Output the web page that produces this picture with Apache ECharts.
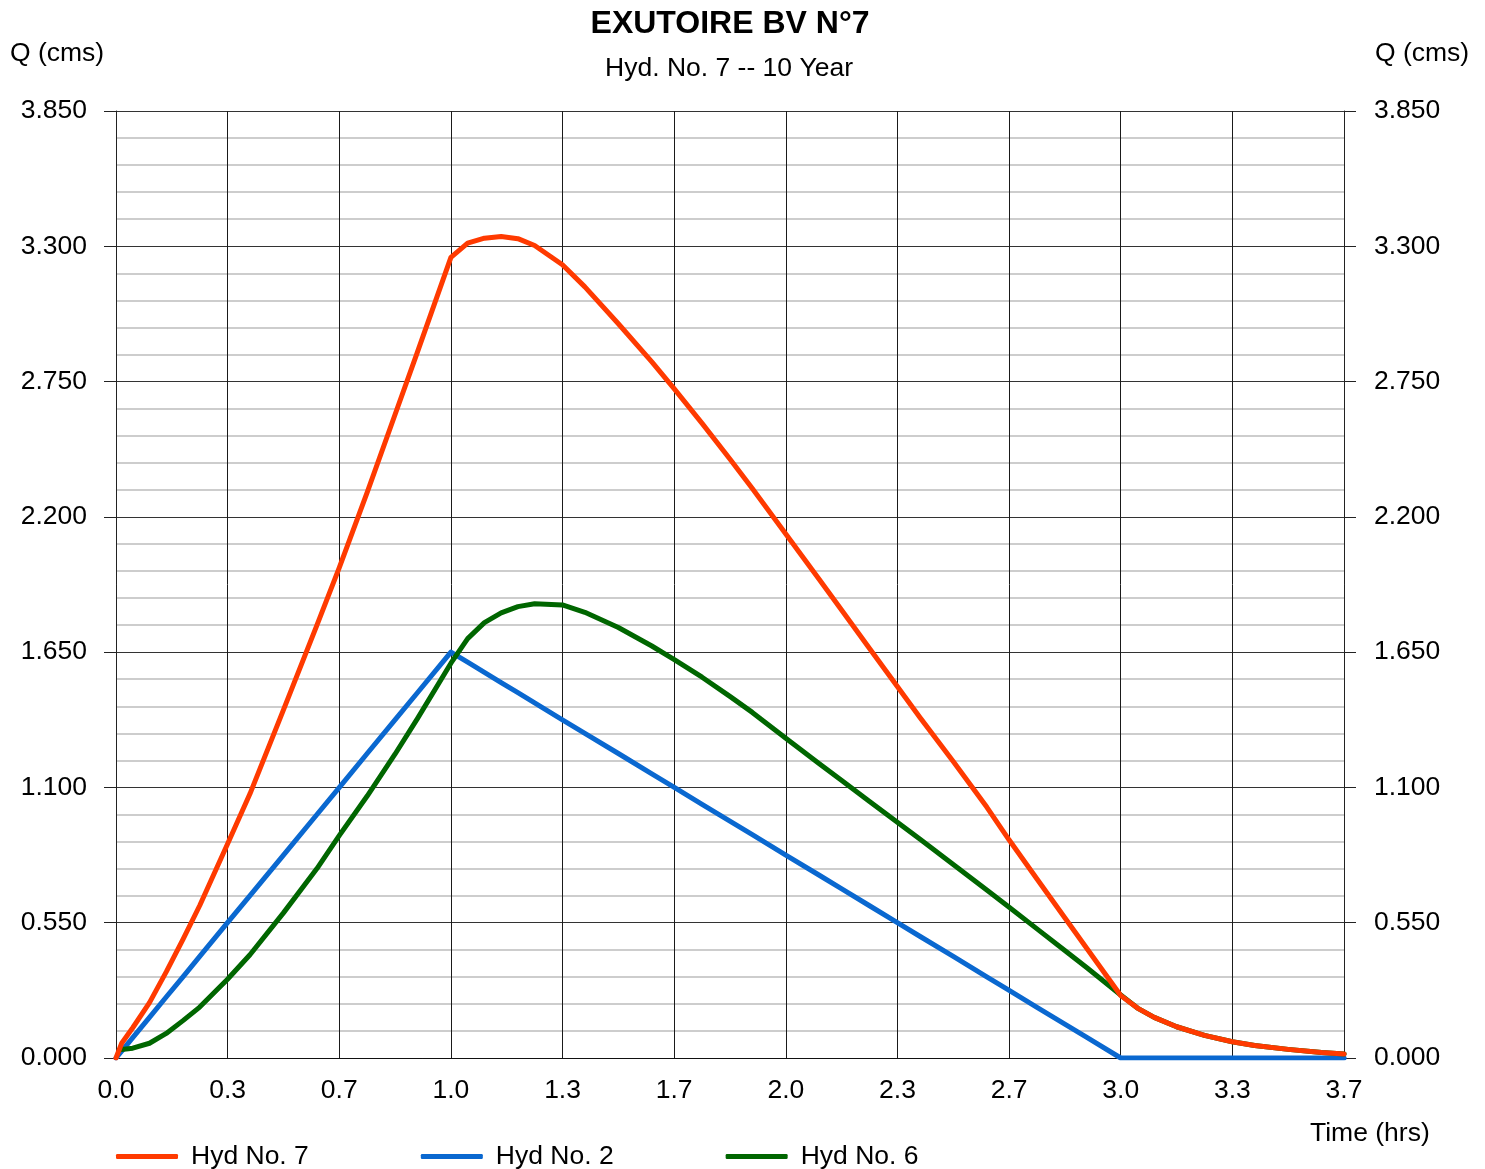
<!DOCTYPE html>
<html><head><meta charset="utf-8">
<script src="https://cdn.jsdelivr.net/npm/echarts/dist/echarts.min.js"></script>
<style>html,body{margin:0;padding:0;background:#fff}#c{width:1485px;height:1169px}</style>
</head><body><div id="c"></div>
<script>
// Time (hrs)
const timeHrs = [0, 0.017, 0.05, 0.1, 0.15, 0.2, 0.25, 0.333, 0.4, 0.5, 0.6, 0.667, 0.75, 0.833, 0.9, 1.0,
  1.05, 1.1, 1.15, 1.2, 1.25, 1.333, 1.4, 1.5, 1.6, 1.667, 1.75, 1.833, 1.9, 2.0,
  2.1, 2.167, 2.25, 2.333, 2.4, 2.5, 2.6, 2.667, 2.75, 2.833, 2.9, 3.0,
  3.05, 3.1, 3.167, 3.25, 3.333, 3.4, 3.5, 3.6, 3.667];
// Hyd No. 7 (cms)
const hyd7 = [0, 0.06, 0.123, 0.225, 0.35, 0.482, 0.62, 0.87, 1.074, 1.415, 1.76, 1.995, 2.30, 2.615, 2.87, 3.255,
  3.313, 3.333, 3.34, 3.331, 3.303, 3.225, 3.135, 2.985, 2.83, 2.72, 2.58, 2.435, 2.315, 2.13,
  1.945, 1.82, 1.665, 1.51, 1.385, 1.205, 1.02, 0.886, 0.728, 0.57, 0.443, 0.254,
  0.203, 0.165, 0.127, 0.092, 0.066, 0.051, 0.035, 0.022, 0.016];
// Hyd No. 2 (cms)
const hyd2 = [0, 0.028, 0.083, 0.165, 0.248, 0.33, 0.413, 0.55, 0.66, 0.825, 0.99, 1.1, 1.238, 1.375, 1.485, 1.65,
  1.609, 1.568, 1.526, 1.485, 1.444, 1.375, 1.32, 1.238, 1.155, 1.1, 1.031, 0.963, 0.908, 0.825,
  0.743, 0.688, 0.619, 0.55, 0.495, 0.413, 0.33, 0.275, 0.206, 0.138, 0.083, 0,
  0, 0, 0, 0, 0, 0, 0, 0, 0];
// Hyd No. 6 (cms)
const hyd6 = [null, 0.035, 0.04, 0.06, 0.10, 0.152, 0.207, 0.32, 0.42, 0.59, 0.77, 0.905, 1.065, 1.235, 1.38, 1.605,
  1.705, 1.77, 1.81, 1.835, 1.847, 1.842, 1.812, 1.75, 1.675, 1.62, 1.548, 1.47, 1.405, 1.30,
  1.196, 1.128, 1.043, 0.958, 0.89, 0.787, 0.683, 0.613, 0.525, 0.437, 0.366, 0.256,
  0.203, 0.165, 0.127, 0.092, 0.066, 0.051, 0.035, 0.022, 0.016];
// Tick labels
const xTickLabels = ['0.0','0.3','0.7','1.0','1.3','1.7','2.0','2.3','2.7','3.0','3.3','3.7'];
const yTickLabels = ['0.000','0.550','1.100','1.650','2.200','2.750','3.300','3.850'];
const yStep = 0.55;
const xStep = 1 / 3;

const FONT = "'Liberation Sans', Arial, sans-serif";
const FS = 26.5;
const zip = (vals) => timeHrs.map((t, i) => [t, vals[i]]);

const chart = echarts.init(document.getElementById('c'), null, {renderer: 'canvas'});

const yAxisBase = {
  type: 'value', min: 0, max: yStep * (yTickLabels.length - 1), interval: yStep,
  axisLine: {show: true, lineStyle: {color: '#222', width: 1}},
  axisTick: {show: true, length: 12, inside: false, lineStyle: {color: '#222', width: 1}},
  axisLabel: {color: '#000', fontSize: FS, fontFamily: FONT, padding: [4, 0, 0, 0],
    formatter: v => yTickLabels[Math.round(v / yStep)] }
};

chart.setOption({
  animation: false,
  backgroundColor: '#fff',
  grid: {left: 116, right: 141, top: 111, bottom: 111, containLabel: false},
  xAxis: {
    type: 'value', min: 0, max: xStep * (xTickLabels.length - 1), interval: xStep,
    axisLine: {show: true, lineStyle: {color: '#111', width: 1}},
    axisTick: {show: false},
    splitLine: {show: true, lineStyle: {color: '#1a1a1a', width: 1}},
    axisLabel: {color: '#000', fontSize: FS, fontFamily: FONT, margin: 19,
      showMinLabel: true, showMaxLabel: true,
      formatter: v => xTickLabels[Math.round(v / xStep)] }
  },
  yAxis: [
    Object.assign({}, yAxisBase, {
      position: 'left',
      axisLabel: Object.assign({}, yAxisBase.axisLabel, {margin: 29}),
      splitLine: {show: true, lineStyle: {color: '#333', width: 1}},
      minorTick: {show: false, splitNumber: 5},
      minorSplitLine: {show: true, lineStyle: {color: '#cdcdcd', width: 2}}
    }),
    Object.assign({}, yAxisBase, {
      position: 'right',
      axisLabel: Object.assign({}, yAxisBase.axisLabel, {margin: 30}),
      splitLine: {show: false}
    })
  ],
  legend: {
    data: ['Hyd No. 7', 'Hyd No. 2', 'Hyd No. 6'],
    left: 116, top: 1143, padding: 0,
    icon: 'roundRect', itemWidth: 62, itemHeight: 5, itemGap: 112,
    textStyle: {color: '#000', fontSize: FS, fontFamily: FONT, padding: [0, 0, 0, 8]}
  },
  graphic: [
    {type: 'text', x: 730, y: 24, style: {text: 'EXUTOIRE BV N°7', fill: '#000', align: 'center', verticalAlign: 'middle',
      font: 'bold 32px ' + FONT}},
    {type: 'text', x: 729, y: 69, style: {text: 'Hyd. No. 7 -- 10 Year', fill: '#000', align: 'center', verticalAlign: 'middle',
      font: FS + 'px ' + FONT}},
    {type: 'text', x: 10, y: 54, style: {text: 'Q (cms)', fill: '#000', align: 'left', verticalAlign: 'middle',
      font: FS + 'px ' + FONT}},
    {type: 'text', x: 1375, y: 54, style: {text: 'Q (cms)', fill: '#000', align: 'left', verticalAlign: 'middle',
      font: FS + 'px ' + FONT}},
    {type: 'text', x: 1310, y: 1134, style: {text: 'Time (hrs)', fill: '#000', align: 'left', verticalAlign: 'middle',
      font: FS + 'px ' + FONT}}
  ],
  series: [
    {name: 'Hyd No. 2', type: 'line', color: '#0a68d0', data: zip(hyd2), showSymbol: false, symbol: 'none',
      lineStyle: {width: 5, color: '#0a68d0', cap: 'round', join: 'round'}},
    {name: 'Hyd No. 6', type: 'line', color: '#006600', data: zip(hyd6), showSymbol: false, symbol: 'none',
      lineStyle: {width: 5, color: '#006600', cap: 'round', join: 'round'}},
    {name: 'Hyd No. 7', type: 'line', color: '#ff3a00', data: zip(hyd7), showSymbol: false, symbol: 'none',
      lineStyle: {width: 5, color: '#ff3a00', cap: 'round', join: 'round'}}
  ]
});
</script>
</body></html>
